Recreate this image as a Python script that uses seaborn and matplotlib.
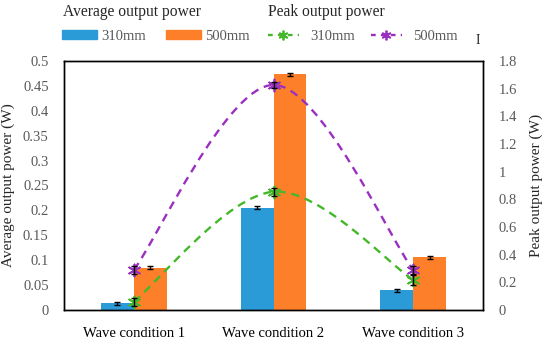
import matplotlib
matplotlib.use("Agg")
import matplotlib.pyplot as plt
from matplotlib.path import Path
from matplotlib.patches import PathPatch
from matplotlib.lines import Line2D
from matplotlib.patches import Patch
import seaborn as sns
import numpy as np
import pandas as pd

# data
conditions = ["Wave condition 1", "Wave condition 2", "Wave condition 3"]
sizes = ["310mm", "500mm"]
avg_310 = [0.0135, 0.205, 0.0395]
avg_500 = [0.085, 0.473, 0.106]
avg_err_310 = [0.003, 0.003, 0.003]
avg_err_500 = [0.003, 0.003, 0.003]
peak_310 = [0.06, 0.855, 0.217]
peak_500 = [0.29, 1.627, 0.29]
peak_err_310 = [0.03, 0.03, 0.035]
peak_err_500 = [0.03, 0.02, 0.03]

left_ticks = [0, 0.05, 0.1, 0.15, 0.2, 0.25, 0.3, 0.35, 0.4, 0.45, 0.5]
right_ticks = [0, 0.2, 0.4, 0.6, 0.8, 1, 1.2, 1.4, 1.6, 1.8]

BLUE = "#2b9bd8"
ORANGE = "#fd7f2a"
GREEN = "#44b82a"
PURPLE = "#9b30c0"
TICK_COLOR = "#595959"

sns.set_style("white")
plt.rcParams["font.family"] = ["Liberation Serif", "DejaVu Serif"]


def smooth_path(xs, ys):
    """Excel-style smoothed line: cubic Bezier segments through the points."""
    pts = np.column_stack([xs, ys]).astype(float)
    n = len(pts)
    verts = [pts[0]]
    codes = [Path.MOVETO]
    for i in range(n - 1):
        p_prev = pts[max(i - 1, 0)]
        p0, p1 = pts[i], pts[i + 1]
        p_next = pts[min(i + 2, n - 1)]
        c1 = p0 + (p1 - p_prev) / 6.0
        c2 = p1 - (p_next - p0) / 6.0
        verts += [c1, c2, p1]
        codes += [Path.CURVE4] * 3
    return Path(verts, codes)


df = pd.DataFrame({
    "condition": conditions * 2,
    "size": [sizes[0]] * 3 + [sizes[1]] * 3,
    "power": avg_310 + avg_500,
})

fig = plt.figure(figsize=(5.5, 3.4), dpi=100)
ax = fig.add_axes([64 / 550, 1 - 310 / 340, (483 - 64) / 550, (310 - 61) / 340])

sns.barplot(data=df, x="condition", y="power", hue="size", order=conditions,
            hue_order=sizes, palette=[BLUE, ORANGE], width=0.47, errorbar=None,
            saturation=1, legend=False, linewidth=0, ax=ax, zorder=2)

# error bars on the bars, at the bar centres
xpos = np.arange(len(conditions))
ax.errorbar(xpos - 0.1175, avg_310, yerr=avg_err_310, fmt="none", ecolor="black",
            elinewidth=1, capsize=2.5, capthick=1, zorder=3)
ax.errorbar(xpos + 0.1175, avg_500, yerr=avg_err_500, fmt="none", ecolor="black",
            elinewidth=1, capsize=2.5, capthick=1, zorder=3)

ax.set_xlim(-0.5, 2.5)
ax.set_ylim(0, 0.5)
ax.set_yticks(left_ticks)
ax.set_yticklabels([f"{t:g}" for t in left_ticks])
ax.set_xlabel("")
ax.set_ylabel("Average output power (W)", fontsize=11, labelpad=6)
ax.tick_params(axis="both", length=0, labelsize=10.5, colors=TICK_COLOR)
ax.tick_params(axis="y", pad=11)
ax.tick_params(axis="x", pad=12)
for lab in ax.get_xticklabels():
    lab.set_color("black")

ax2 = ax.twinx()
ax2.set_ylim(0, 1.8)
ax2.set_yticks(right_ticks)
ax2.set_yticklabels([f"{t:g}" for t in right_ticks])
ax2.tick_params(axis="y", length=0, labelsize=10.5, colors=TICK_COLOR, pad=11)
ax2.set_ylabel("Peak output power (W)", fontsize=11, labelpad=9)

for ys, errs, col in [(peak_310, peak_err_310, GREEN), (peak_500, peak_err_500, PURPLE)]:
    ax2.add_patch(PathPatch(smooth_path(xpos, ys), facecolor="none", edgecolor=col,
                            lw=1.7, linestyle=(0, (3.5, 2.5)), zorder=4))
    sns.scatterplot(x=xpos, y=ys, marker=(6, 2, 0), s=75, color=col,
                    linewidth=1.3, ax=ax2, zorder=5)
    ax2.errorbar(xpos, ys, yerr=errs, fmt="none", ecolor="black",
                 elinewidth=1, capsize=2.5, capthick=1, zorder=6)

for a in (ax, ax2):
    for sp in a.spines.values():
        sp.set_visible(True)
        sp.set_color("black")
        sp.set_linewidth(1.0)

# legend: two group headers, each with one row of items
fig.text(63 / 550, 1 - 12 / 340, "Average output power", fontsize=11.2, va="center")
fig.text(268 / 550, 1 - 12 / 340, "Peak output power", fontsize=11.2, va="center")
bar_handles = [Patch(facecolor=BLUE, edgecolor=BLUE),
               Patch(facecolor=ORANGE, edgecolor=ORANGE)]
line_handles = [
    Line2D([], [], color=c, lw=1.7, linestyle=(0, (2, 2.2)), marker=(6, 2, 0),
           markersize=7, markeredgewidth=1.3)
    for c in (GREEN, PURPLE)
]
leg_kw = dict(loc="center left", ncol=2, frameon=False, fontsize=10.5,
              borderpad=0, borderaxespad=0, labelcolor=TICK_COLOR)
fig.legend(bar_handles, sizes, bbox_to_anchor=(62 / 550, 1 - 36 / 340),
           handlelength=2.4, handleheight=0.6, handletextpad=0.3,
           columnspacing=1.35, **leg_kw)
fig.legend(line_handles, sizes, bbox_to_anchor=(268 / 550, 1 - 36 / 340),
           handlelength=2.1, handletextpad=0.8, columnspacing=1.1, **leg_kw)
fig.text(478 / 550, 1 - 40 / 340, "I", fontsize=10, va="center", ha="center")

fig.savefig("out.png", dpi=100)
